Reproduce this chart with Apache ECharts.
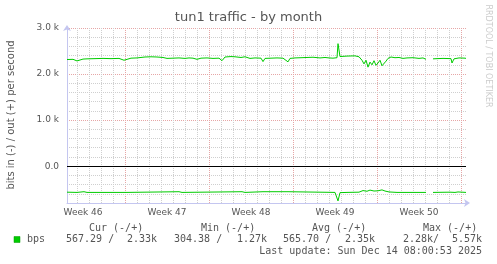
<!DOCTYPE html>
<html><head><meta charset="utf-8">
<script src="https://cdn.jsdelivr.net/npm/echarts@6/dist/echarts.min.js"></script>
<style>html,body{margin:0;padding:0;background:#fff}#c{width:497px;height:264px}</style>
</head><body><div id="c"></div>
<script>
// ---- data ----
const titleText = 'tun1 traffic - by month';
const yName = 'bits in (-) / out (+) per second';
const sideText = 'RRDTOOL / TOBI OETIKER';
const weekLabels = ['Week 46', 'Week 47', 'Week 48', 'Week 49', 'Week 50'];
const yTickLabels = ['0.0', '1.0 k', '2.0 k', '3.0 k'];
const yMin = -800, yMax = 3000, yMinorStep = 200, yMajorStep = 1000;
// time axis in 2-hour slots
const slotCount = 400;
const firstDaySlot = 10, slotsPerDay = 12, firstWeekSlot = 58, slotsPerWeek = 84;

// out (+) traffic, bits/s
const outSlots = [0, 6, 10, 12, 16, 20, 28, 36, 44, 52, 57, 59, 64, 70, 78, 84, 90, 96, 100, 102, 106, 112, 118, 122, 126, 130, 134, 140, 146, 152, 155, 158, 164, 168, 174, 178, 183, 188, 194, 196, 198, 204, 210, 216, 221, 223, 228, 234, 240, 246, 253, 258, 262, 266, 270, 271, 273, 280, 288, 292, 295, 297, 299, 301, 303, 305, 307, 309, 311, 313, 315, 317, 319, 321, 324, 328, 332, 336, 340, 346, 352, 356, 359, 362, 366, 370, 376, 384, 385, 387, 392, 398, 399];
const outValues = [2315, 2320, 2285, 2310, 2325, 2330, 2335, 2340, 2335, 2340, 2300, 2330, 2345, 2350, 2370, 2375, 2370, 2360, 2340, 2320, 2345, 2350, 2340, 2350, 2345, 2320, 2345, 2350, 2340, 2345, 2290, 2370, 2380, 2375, 2360, 2375, 2340, 2350, 2345, 2270, 2340, 2345, 2350, 2345, 2265, 2340, 2350, 2355, 2360, 2365, 2350, 2360, 2350, 2345, 2355, 2660, 2380, 2390, 2395, 2375, 2300, 2220, 2300, 2150, 2260, 2200, 2290, 2190, 2240, 2300, 2180, 2150, 2280, 2340, 2370, 2355, 2360, 2340, 2350, 2355, 2340, 2350, 2320, null, 2330, 2335, 2340, 2335, 2240, 2330, 2350, 2345, 2340];

// in (-) traffic, bits/s (drawn negative)
const inSlots = [0, 10, 17, 20, 60, 112, 115, 175, 178, 196, 198, 221, 223, 268, 270, 271, 273, 280, 292, 296, 300, 303, 307, 311, 315, 318, 322, 330, 359, 362, 366, 383, 385, 388, 391, 399];
const inValues = [-565, -570, -555, -570, -570, -555, -570, -555, -570, -555, -570, -555, -570, -570, -575, -755, -575, -570, -565, -530, -545, -520, -540, -535, -515, -540, -560, -570, -570, null, -570, -565, -550, -570, -560, -570];

// legend
const legendHeaders = ['Cur (-/+)', 'Min (-/+)', 'Avg (-/+)', 'Max (-/+)'];
const legendName = 'bps';
const legendIn = ['567.29 /', '304.38 /', '565.70 /', '2.28k/'];
const legendOut = ['2.33k', '1.27k', '2.35k', '5.57k'];
const lastUpdate = 'Last update: Sun Dec 14 08:00:53 2025';

// ---- build ----
const GREEN = '#00cc00';
const AXIS = '#c4c6f0';
const MINOR = '#cfcfcf';
const MAJOR = '#e6a6a6';
const TXT = '#555555';

const slotCats = [];
for (let i = 0; i <= slotCount; i++) {
  const k = (i - (firstWeekSlot - slotsPerWeek / 2)) / slotsPerWeek;
  slotCats.push(Number.isInteger(k) && k >= 0 && k < weekLabels.length ? weekLabels[k] : '');
}
const yCats = [];
for (let v = yMin; v <= yMax; v += yMinorStep) {
  const k = v / yMajorStep;
  yCats.push(Number.isInteger(k) && k >= 0 ? yTickLabels[k] : '');
}
const isWeek = i => i >= firstWeekSlot && (i - firstWeekSlot) % slotsPerWeek === 0;
const isDay = i => (i - firstDaySlot) % slotsPerDay === 0 && i > 0;
const isMajorY = i => (yMin + i * yMinorStep) % yMajorStep === 0;

const outData = outSlots.map((s, i) => [s, outValues[i]]);
const inData = inSlots.map((s, i) => [s, inValues[i]]);

const chart = echarts.init(document.getElementById('c'), null, {renderer: 'canvas'});
const monoFont = {fontFamily: 'DejaVu Sans Mono', fontSize: 10, fill: TXT};
const graphics = [
  {type: 'text', left: 'center', top: 11, style: {text: titleText, fontFamily: 'DejaVu Sans', fontSize: 13, fill: TXT}},
  {type: 'text', x: 11, y: 115, rotation: Math.PI / 2, style: {text: yName, fontFamily: 'DejaVu Sans', fontSize: 10, fill: TXT, align: 'center', verticalAlign: 'middle'}},
  {type: 'text', x: 488, y: 56, rotation: -Math.PI / 2, style: {text: sideText, fontFamily: 'DejaVu Sans', fontSize: 8, fill: '#cccccc', align: 'center', verticalAlign: 'middle'}},
  {type: 'rect', shape: {x: 14, y: 236.5, width: 6, height: 6}, style: {fill: GREEN, stroke: '#009900', lineWidth: 0.5}},
  {type: 'text', x: 27, y: 239.5, style: Object.assign({text: legendName, verticalAlign: 'middle'}, monoFont)},
  {type: 'text', x: 482, y: 251.5, style: Object.assign({text: lastUpdate, align: 'right', verticalAlign: 'middle'}, monoFont)}
];
const headerX = [89, 201, 312, 423];
const inX = [66, 174, 283, 403];
const outRight = [157, 267, 375, 482];
legendHeaders.forEach((h, i) => {
  graphics.push({type: 'text', x: headerX[i], y: 228, style: Object.assign({text: h, verticalAlign: 'middle'}, monoFont)});
  graphics.push({type: 'text', x: inX[i], y: 239.5, style: Object.assign({text: legendIn[i], verticalAlign: 'middle'}, monoFont)});
  graphics.push({type: 'text', x: outRight[i], y: 239.5, style: Object.assign({text: legendOut[i], align: 'right', verticalAlign: 'middle'}, monoFont)});
});

chart.setOption({
  animation: false,
  backgroundColor: '#ffffff',
  grid: {left: 67, right: 30, top: 28, bottom: 61, containLabel: false},
  xAxis: [
    {type: 'category', data: slotCats, boundaryGap: false, position: 'bottom', z: 3,
     axisLine: {show: true, onZero: false, symbol: ['none', 'arrow'], symbolSize: [6, 6], symbolOffset: [0, 3], lineStyle: {color: AXIS, width: 1}},
     axisTick: {show: false},
     axisLabel: {interval: (i, v) => v !== '', margin: 5, fontFamily: 'DejaVu Sans', fontSize: 9, color: TXT},
     splitLine: {show: true, interval: (i) => isDay(i) && !isWeek(i), lineStyle: {color: MINOR, type: [1, 1], width: 1}}},
    {type: 'category', data: slotCats, boundaryGap: false, position: 'bottom', z: 2,
     axisLine: {show: false}, axisTick: {show: false}, axisLabel: {show: false},
     splitLine: {show: true, interval: (i) => isWeek(i), lineStyle: {color: MAJOR, type: [1, 1], width: 1}}},
    {type: 'value', min: 0, max: slotCount, show: false}
  ],
  yAxis: [
    {type: 'category', data: yCats, boundaryGap: false, position: 'left', z: 3,
     axisLine: {show: true, onZero: false, symbol: ['none', 'arrow'], symbolSize: [6, 6], symbolOffset: [0, 3], lineStyle: {color: AXIS, width: 1}},
     axisTick: {show: false},
     axisLabel: {interval: (i, v) => v !== '', margin: 8, fontFamily: 'DejaVu Sans', fontSize: 9, color: TXT},
     splitLine: {show: true, interval: (i) => !isMajorY(i) && i > 0, lineStyle: {color: MINOR, type: [1, 1], width: 1}}},
    {type: 'category', data: yCats, boundaryGap: false, position: 'left', z: 2,
     axisLine: {show: false}, axisTick: {show: false}, axisLabel: {show: false},
     splitLine: {show: true, interval: (i) => isMajorY(i), lineStyle: {color: MAJOR, type: [1, 1], width: 1}}},
    {type: 'value', min: yMin, max: yMax, show: false}
  ],
  series: [
    {name: 'out', type: 'line', xAxisIndex: 2, yAxisIndex: 2, data: outData, showSymbol: false, connectNulls: false,
     lineStyle: {color: GREEN, width: 1}, z: 5,
     markLine: {silent: true, symbol: 'none', label: {show: false}, lineStyle: {color: '#000000', type: 'solid', width: 1},
       data: [[{coord: [0, 0]}, {coord: [slotCount - 1, 0]}]]}},
    {name: 'in', type: 'line', xAxisIndex: 2, yAxisIndex: 2, data: inData, showSymbol: false, connectNulls: false,
     lineStyle: {color: GREEN, width: 1}, z: 5}
  ],
  graphic: graphics
});
</script></body></html>
